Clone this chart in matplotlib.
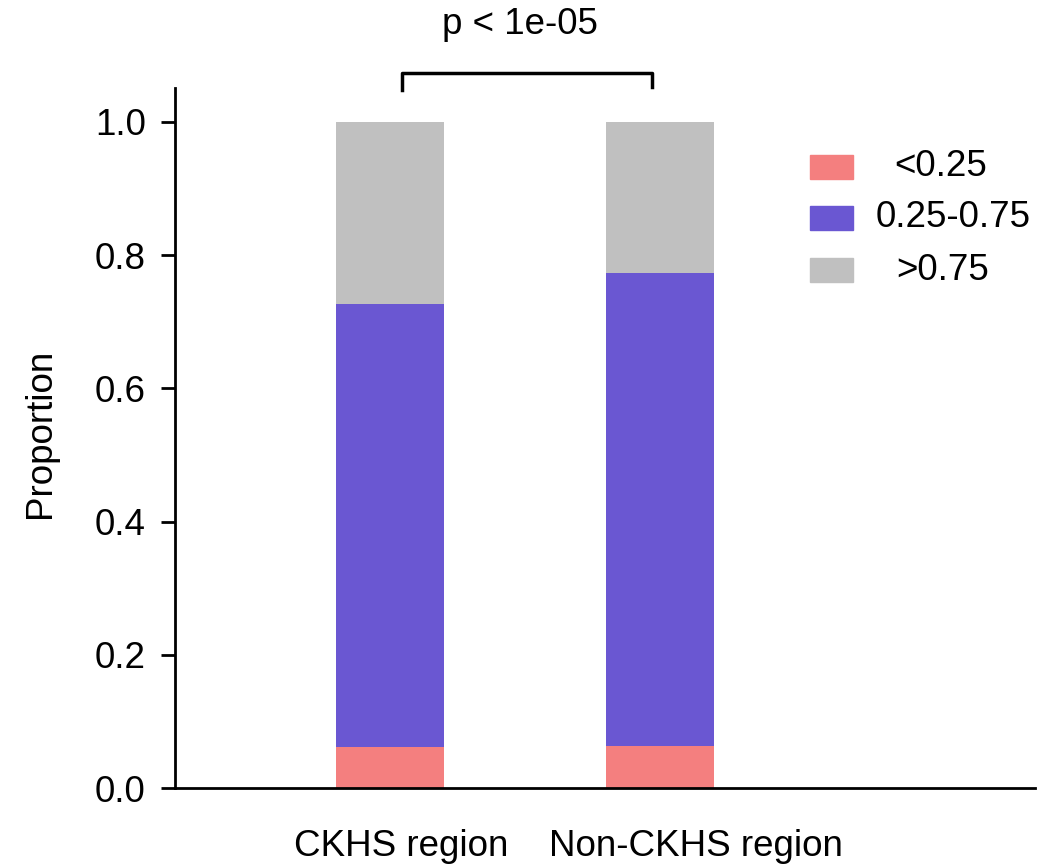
import matplotlib
matplotlib.use("Agg")
import matplotlib.pyplot as plt
import matplotlib.transforms as mtransforms
from matplotlib.patches import Rectangle
import numpy as np

plt.rcParams['font.family'] = ['Liberation Sans', 'DejaVu Sans']

categories = ["CKHS region", "Non-CKHS region"]
low = [0.062, 0.063]          # <0.25
mid = [0.665, 0.710]          # 0.25-0.75
high = [0.273, 0.227]         # >0.75
legend_labels = ["<0.25", "0.25-0.75", ">0.75"]
colors = ["#F47F7F", "#6A57D2", "#C0C0C0"]
p_text = "p < 1e-05"

FS = 26.5
W, H = 1038, 867
fig = plt.figure(figsize=(W/100, H/100), dpi=100)
ax = fig.add_axes([175/W, 1-788/H, (1035-175)/W, (788-88)/H])

x = np.arange(len(categories))
bottom = np.zeros(len(categories))
for vals, c in zip([low, mid, high], colors):
    ax.bar(x, vals, width=0.4, bottom=bottom, color=c, edgecolor='none')
    bottom += np.array(vals)

ax.set_xlim(-0.796, 2.389)
ax.set_ylim(0, 1.051)
ax.set_yticks([0, 0.2, 0.4, 0.6, 0.8, 1.0])
ax.set_yticklabels(["0.0", "0.2", "0.4", "0.6", "0.8", "1.0"])
ax.set_xticks(x)
ax.set_xticklabels(categories)
ax.tick_params(axis='y', labelsize=FS, length=10, width=2, pad=11)
ax.tick_params(axis='x', labelsize=FS, length=0, pad=29.5)
# small horizontal offsets of category labels as in the reference
for lbl, dx in zip(ax.get_xticklabels(), [11, 36]):
    lbl.set_transform(lbl.get_transform() +
                      mtransforms.ScaledTranslation(dx/100, 0, fig.dpi_scale_trans))
for s in ['top', 'right']:
    ax.spines[s].set_visible(False)
for s in ['left', 'bottom']:
    ax.spines[s].set_linewidth(2)
ax.set_ylabel("Proportion", fontsize=FS)
ax.yaxis.set_label_coords(-0.136, 0.506)

# significance bracket
ax.plot([0.044, 0.044, 0.97, 0.97], [1.048, 1.074, 1.074, 1.052],
        color='black', lw=2.5, clip_on=False)
ax.text(0.48, 1.146, p_text, ha='center', va='center', fontsize=FS)

# legend
ys = [167, 218, 270]
xs = [941, 953, 943]
for lab, c, yc, xc in zip(legend_labels, colors, ys, xs):
    fig.patches.append(Rectangle((810/W, 1-(yc+12)/H), 43/W, 24/H,
                                 transform=fig.transFigure, color=c))
    fig.text(xc/W, 1-yc/H, lab, ha='center', va='center', fontsize=FS)

fig.savefig("out.png", dpi=100)
